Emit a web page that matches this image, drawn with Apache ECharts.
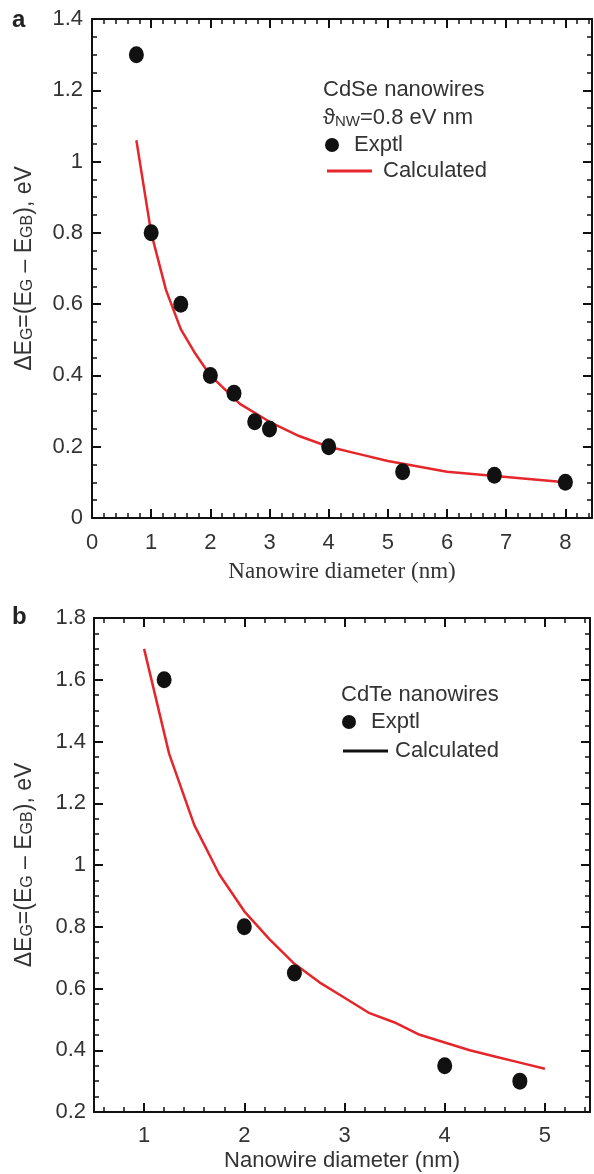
<!DOCTYPE html>
<html>
<head>
<meta charset="utf-8">
<script src="https://cdn.jsdelivr.net/npm/echarts@6/dist/echarts.min.js"></script>
<style>
html, body { margin: 0; padding: 0; background: #fff; }
#chart { width: 594px; height: 1174px; }
</style>
</head>
<body>
<div id="chart"></div>
<script>
// panel a - CdSe nanowires
var cdseDiam = [0.75, 1, 1.5, 2, 2.4, 2.75, 3, 4, 5.25, 6.8, 8];
var cdseExptl = [1.3, 0.8, 0.6, 0.4, 0.35, 0.27, 0.25, 0.2, 0.13, 0.12, 0.1];
var cdseCalcDiam = [0.75, 1, 1.25, 1.5, 1.75, 2, 2.5, 3, 3.5, 4, 4.5, 5, 6, 7, 8];
var cdseCalc = [1.06, 0.8, 0.64, 0.53, 0.46, 0.4, 0.32, 0.27, 0.23, 0.2, 0.18, 0.16, 0.13, 0.115, 0.1];
var cdseXTicks = [0, 1, 2, 3, 4, 5, 6, 7, 8];
var cdseYTicks = [0, 0.2, 0.4, 0.6, 0.8, 1, 1.2, 1.4];

// panel b - CdTe nanowires
var cdteDiam = [1.2, 2, 2.5, 4, 4.75];
var cdteExptl = [1.6, 0.8, 0.65, 0.35, 0.3];
var cdteCalcDiam = [1, 1.25, 1.5, 1.75, 2, 2.25, 2.5, 2.75, 3, 3.25, 3.5, 3.75, 4, 4.25, 4.5, 4.75, 5];
var cdteCalc = [1.7, 1.36, 1.13, 0.97, 0.85, 0.76, 0.68, 0.62, 0.57, 0.52, 0.49, 0.45, 0.425, 0.4, 0.38, 0.36, 0.34];
var cdteXTicks = [1, 2, 3, 4, 5];
var cdteYTicks = [0.2, 0.4, 0.6, 0.8, 1, 1.2, 1.4, 1.6, 1.8];

var SANS = 'Liberation Sans, Arial, sans-serif';
var SERIF = 'Liberation Serif, Times New Roman, serif';
var INK = '#111';
var RED = '#e5262a';

function minorList(min, max, step) {
    var out = [];
    var k = Math.ceil(min / step - 1e-9);
    while (k * step <= max + 1e-9) {
        out.push(+(k * step).toFixed(4));
        k++;
    }
    return out;
}

// one axis with major ticks (and maybe labels) plus a twin carrying the minor ticks
function axisPair(grid, pos, min, max, majors, minorStep, label, extra) {
    var base = { type: 'value', gridIndex: grid, position: pos, min: min, max: max, splitLine: { show: false } };
    var major = Object.assign({}, base, {
        axisLine: { show: true, onZero: false, lineStyle: { color: INK, width: 2 } },
        axisTick: { show: true, inside: true, length: 9, customValues: majors, lineStyle: { color: INK, width: 2 } },
        axisLabel: label ? Object.assign({ show: true, customValues: majors, fontSize: 22, color: '#333', fontFamily: SANS }, label) : { show: false }
    }, extra || {});
    var minor = Object.assign({}, base, {
        axisLine: { show: false, onZero: false },
        axisTick: { show: true, inside: true, length: 5, customValues: minorList(min, max, minorStep), lineStyle: { color: INK, width: 1.5 } },
        axisLabel: { show: false }
    });
    return [major, minor];
}

var yName = '{n|ΔE}{s|G}{n|=(E}{s|G}{n| – E}{s|GB}{n|), eV}';
var yNameStyle = {
    color: '#333',
    rich: {
        n: { fontSize: 23, fontFamily: SANS, color: '#333' },
        s: { fontSize: 16, fontFamily: SANS, color: '#333', verticalAlign: 'bottom' }
    }
};

var xAxes = [].concat(
    axisPair(0, 'bottom', 0, 8.45, cdseXTicks, 0.2, { margin: 14 }, {
        name: 'Nanowire diameter (nm)', nameLocation: 'middle', nameGap: 42,
        nameTextStyle: { fontSize: 23, fontFamily: SERIF, color: '#333' }
    }),
    axisPair(0, 'top', 0, 8.45, cdseXTicks, 0.2, null),
    axisPair(1, 'bottom', 0.5, 5.45, cdteXTicks, 0.2, { margin: 13 }, {
        name: 'Nanowire diameter (nm)', nameLocation: 'middle', nameGap: 38,
        nameTextStyle: { fontSize: 22, fontFamily: SANS, color: '#333' }
    }),
    axisPair(1, 'top', 0.5, 5.45, cdteXTicks, 0.2, null)
);

var yAxes = [].concat(
    axisPair(0, 'left', 0, 1.4, cdseYTicks, 0.05, { margin: 9 }, {
        name: yName, nameLocation: 'middle', nameGap: 56, nameRotate: 90, nameTextStyle: yNameStyle
    }),
    axisPair(0, 'right', 0, 1.4, cdseYTicks, 0.05, null),
    axisPair(1, 'left', 0.2, 1.8, cdteYTicks, 0.05, { margin: 8 }, {
        name: yName, nameLocation: 'middle', nameGap: 58, nameRotate: 90, nameTextStyle: yNameStyle
    }),
    axisPair(1, 'right', 0.2, 1.8, cdteYTicks, 0.05, null)
);

function pairs(xs, ys) {
    return xs.map(function (x, i) { return [x, ys[i]]; });
}

function label(x, y, text, size, extra) {
    return {
        type: 'text', x: x, y: y, silent: true,
        style: Object.assign({ text: text, fontSize: size || 22, fontFamily: SANS, fill: '#333', verticalAlign: 'middle' }, extra || {})
    };
}

var graphics = [
    label(12, 20, 'a', 24, { fontWeight: 'bold', fill: '#222' }),
    label(12, 617, 'b', 24, { fontWeight: 'bold', fill: '#222' }),
    // legend a
    label(323, 90, 'CdSe nanowires', 22),
    label(323, 118, '{n|ϑ}{s|NW}{n|=0.8 eV nm}', 22, {
        rich: {
            n: { fontSize: 22, fontFamily: SANS, fill: '#333' },
            s: { fontSize: 15, fontFamily: SANS, fill: '#333', verticalAlign: 'bottom' }
        }
    }),
    { type: 'circle', shape: { cx: 332, cy: 145, r: 7 }, style: { fill: INK }, silent: true },
    label(354, 145, 'Exptl', 22),
    { type: 'line', shape: { x1: 327, y1: 171, x2: 372, y2: 171 }, style: { stroke: RED, lineWidth: 3 }, silent: true },
    label(383, 171, 'Calculated', 22),
    // legend b
    label(341, 695, 'CdTe nanowires', 22),
    { type: 'circle', shape: { cx: 349, cy: 722, r: 7 }, style: { fill: INK }, silent: true },
    label(371, 722, 'Exptl', 22),
    { type: 'line', shape: { x1: 343, y1: 751, x2: 388, y2: 751 }, style: { stroke: INK, lineWidth: 3 }, silent: true },
    label(395, 751, 'Calculated', 22)
];

var chart = echarts.init(document.getElementById('chart'));
chart.setOption({
    backgroundColor: '#fff',
    animation: false,
    grid: [
        { left: 92, right: 2, top: 19, bottom: 656 },
        { left: 94, right: 4, top: 618, bottom: 62 }
    ],
    xAxis: xAxes,
    yAxis: yAxes,
    graphic: graphics,
    series: [
        {
            name: 'Calculated', type: 'line', xAxisIndex: 0, yAxisIndex: 0,
            data: pairs(cdseCalcDiam, cdseCalc), showSymbol: false, symbol: 'none',
            lineStyle: { color: RED, width: 2.5 }, z: 2
        },
        {
            name: 'Exptl', type: 'scatter', xAxisIndex: 0, yAxisIndex: 0,
            data: pairs(cdseDiam, cdseExptl), symbol: 'circle', symbolSize: [15, 17],
            itemStyle: { color: INK, opacity: 1 }, z: 3
        },
        {
            name: 'Calculated', type: 'line', xAxisIndex: 4, yAxisIndex: 4,
            data: pairs(cdteCalcDiam, cdteCalc), showSymbol: false, symbol: 'none',
            lineStyle: { color: RED, width: 2.5 }, z: 2
        },
        {
            name: 'Exptl', type: 'scatter', xAxisIndex: 4, yAxisIndex: 4,
            data: pairs(cdteDiam, cdteExptl), symbol: 'circle', symbolSize: [15, 17],
            itemStyle: { color: INK, opacity: 1 }, z: 3
        }
    ]
});
</script>
</body>
</html>
